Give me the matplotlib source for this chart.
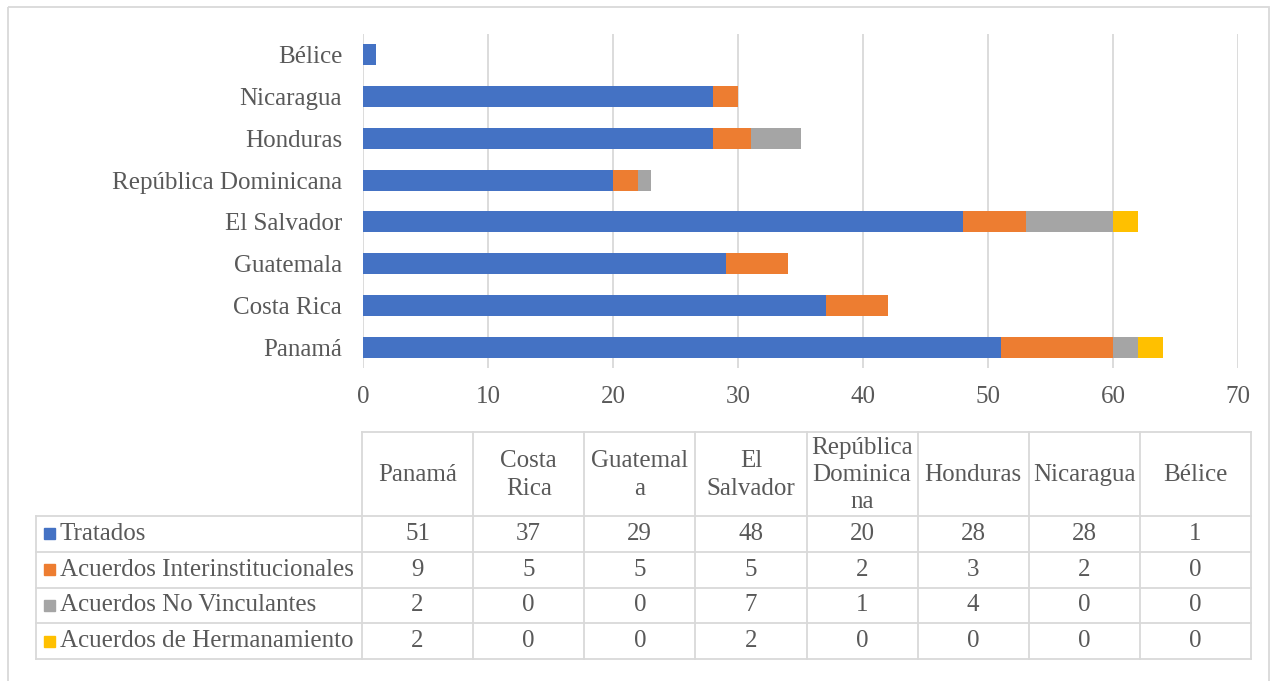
import matplotlib
matplotlib.use("Agg")
import matplotlib.pyplot as plt
from matplotlib.patches import Rectangle

# --- DATA ---
paises = ["Panamá", "Costa Rica", "Guatemala", "El Salvador",
          "República Dominicana", "Honduras", "Nicaragua", "Bélice"]
encabezados = ["Panamá", "Costa\nRica", "Guatemal\na", "El\nSalvador",
               "República\nDominica\nna", "Honduras", "Nicaragua", "Bélice"]
series = ["Tratados", "Acuerdos Interinstitucionales",
          "Acuerdos No Vinculantes", "Acuerdos de Hermanamiento"]
tratados = [51, 37, 29, 48, 20, 28, 28, 1]
interinst = [9, 5, 5, 5, 2, 3, 2, 0]
no_vinc = [2, 0, 0, 7, 1, 4, 0, 0]
hermanam = [2, 0, 0, 2, 0, 0, 0, 0]
colores = ["#4472C4", "#ED7D31", "#A5A5A5", "#FFC000"]

# --- STYLE ---
plt.rcParams["font.family"] = ["Liberation Serif", "DejaVu Serif"]
TXT = "#595959"
LINEA = "#D9D9D9"
FS = 18
W, H = 1279, 681

fig = plt.figure(figsize=(W / 100, H / 100), dpi=100)

# layout layer in pixel coords (y down) for border and data table
lay = fig.add_axes([0, 0, 1, 1])
lay.set_xlim(0, W)
lay.set_ylim(H, 0)
lay.axis("off")
lay.add_patch(Rectangle((8, 7), 1261, 700, fill=False, ec=LINEA, lw=1.3))

# --- BAR CHART ---
x0, x1 = 363, 1238
y_top, y_bot = 34, 368
ax = fig.add_axes([x0 / W, 1 - y_bot / H, (x1 - x0) / W, (y_bot - y_top) / H])
valores = [tratados, interinst, no_vinc, hermanam]
izq = [0] * len(paises)
pos = range(len(paises))
for vals, col in zip(valores, colores):
    ax.barh(pos, vals, left=izq, height=0.5, color=col, zorder=3)
    izq = [a + b for a, b in zip(izq, vals)]

ax.set_xlim(0, 70)
ax.set_ylim(-0.5, len(paises) - 0.5)
ax.set_xticks(range(0, 71, 10))
ax.set_yticks(list(pos))
ax.set_yticklabels(paises)
ax.tick_params(length=0, labelsize=FS, colors=TXT)
ax.tick_params(axis="x", pad=13)
ax.tick_params(axis="y", pad=15)
ax.grid(axis="x", color=LINEA, lw=1.3, zorder=0)
for s in ax.spines.values():
    s.set_visible(False)

# --- DATA TABLE ---
t_left, c_left, t_right = 36, 362, 1251
h_top, h_bot = 432, 516
row_h = 35.75
ncol = len(paises)
cw = (t_right - c_left) / ncol
row_edges = [h_bot + i * row_h for i in range(len(series) + 1)]

lay.plot([c_left, t_right], [h_top, h_top], color=LINEA, lw=1.3)
for yy in row_edges:
    lay.plot([t_left, t_right], [yy, yy], color=LINEA, lw=1.3)
lay.plot([t_left, t_left], [h_bot, row_edges[-1]], color=LINEA, lw=1.3)
for j in range(ncol + 1):
    xx = c_left + j * cw
    lay.plot([xx, xx], [h_top, row_edges[-1]], color=LINEA, lw=1.3)

for j, lab in enumerate(encabezados):
    lay.text(c_left + (j + 0.5) * cw, (h_top + h_bot) / 2 + 1, lab,
             ha="center", va="center", fontsize=FS, color=TXT,
             linespacing=1.3)

for i, (nombre, vals, col) in enumerate(zip(series, valores, colores)):
    yc = (row_edges[i] + row_edges[i + 1]) / 2
    lay.add_patch(Rectangle((44, yc - 5.5), 11, 11, color=col))
    lay.text(60, yc, nombre, ha="left", va="center", fontsize=FS, color=TXT)
    for j, v in enumerate(vals):
        lay.text(c_left + (j + 0.5) * cw, yc, str(v), ha="center",
                 va="center", fontsize=FS, color=TXT)

fig.savefig("out.png", dpi=100)
